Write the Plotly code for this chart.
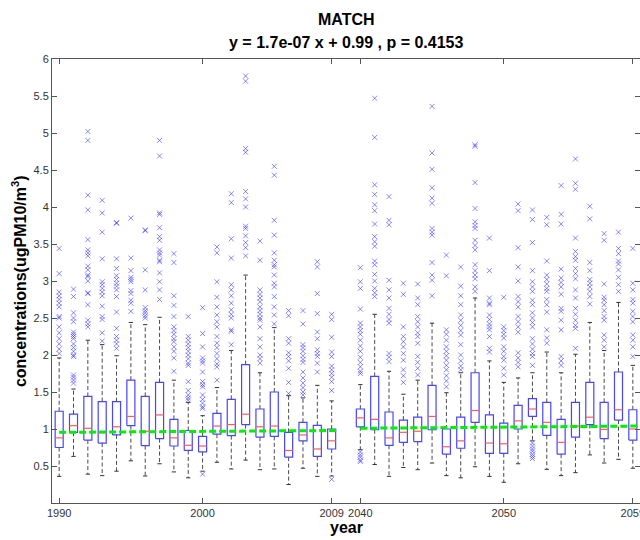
import plotly.graph_objects as go

# ---------------- data ----------------
years = list(range(1990, 2010)) + list(range(2040, 2060))

q3 = [1.24, 1.20, 1.44, 1.37, 1.37, 1.66, 1.44, 1.63, 1.13, 0.98,
      0.90, 1.21, 1.40, 1.87, 1.27, 1.50, 0.955, 1.09, 1.05, 1.00,
      1.27, 1.71, 1.23, 1.12, 1.16, 1.59, 1.00, 1.16, 1.76, 1.19,
      1.08, 1.32, 1.41, 1.36, 1.13, 1.36, 1.63, 1.36, 1.77, 1.26]

median = [0.88, 1.045, 1.01, 0.95, 1.03, 1.17, 0.97, 1.19, 0.88, 0.78,
          0.77, 1.04, 1.06, 1.20, 1.03, 1.04, 0.71, 0.92, 0.73, 0.84,
          1.15, 1.13, 0.88, 0.955, 0.97, 1.17, 0.76, 0.84, 1.25, 0.81,
          0.80, 1.11, 1.27, 1.09, 0.82, 1.04, 1.16, 0.995, 1.26, 1.00]

q1 = [0.75, 0.955, 0.85, 0.81, 0.92, 1.045, 0.775, 0.87, 0.77, 0.71,
      0.69, 0.93, 0.91, 1.06, 0.89, 0.90, 0.62, 0.84, 0.63, 0.73,
      1.03, 0.99, 0.78, 0.82, 0.83, 0.99, 0.66, 0.74, 1.09, 0.67,
      0.67, 1.00, 1.17, 0.915, 0.66, 0.89, 1.06, 0.87, 1.12, 0.85]

whisker_hi = [1.96, 1.54, 2.20, 2.14, 1.99, 2.44, 2.41, 2.51, 1.66, 1.36,
              1.18, 1.56, 2.06, 3.08, 1.76, 2.37, 1.45, 1.42, 1.59, 1.38,
              1.60, 2.55, 1.78, 1.47, 1.66, 2.43, 1.49, 1.76, 2.77, 1.92,
              1.63, 1.69, 1.76, 2.04, 1.76, 2.01, 2.44, 2.06, 2.71, 1.86]

whisker_lo = [0.36, 0.63, 0.39, 0.37, 0.43, 0.57, 0.365, 0.53, 0.42, 0.34,
              0.43, 0.55, 0.46, 0.58, 0.45, 0.46, 0.25, 0.47, 0.36, 0.365,
              0.72, 0.52, 0.36, 0.48, 0.45, 0.54, 0.37, 0.34, 0.49, 0.36,
              0.28, 0.53, 0.84, 0.455, 0.37, 0.41, 0.65, 0.54, 0.59, 0.47]

outliers = [
    [3.44, 3.10, 2.85, 2.80, 2.75, 2.70, 2.65, 2.52, 2.50, 2.38, 2.30, 2.22, 2.15, 2.08, 2.02],       # 1990
    [2.89, 2.79, 2.57, 2.50, 2.45, 2.31, 2.28, 2.25, 2.22, 2.15, 2.10, 2.05, 2.00, 1.98, 1.73, 1.70, 1.66, 1.62],
    [5.02, 4.90, 4.16, 3.96, 3.56, 3.42, 3.38, 3.34, 3.20, 3.15, 3.08, 3.06, 3.00, 2.84, 2.83, 2.68, 2.47, 2.42, 2.38],
    [4.09, 3.92, 3.66, 3.30, 2.99, 2.95, 2.90, 2.85, 2.80, 2.66, 2.52, 2.48, 2.30, 2.19],
    [3.79, 3.78, 3.30, 3.17, 3.07, 3.02, 2.97, 2.93, 2.88, 2.79, 2.58, 2.36, 2.25, 2.20, 2.15, 2.09],
    [3.85, 3.31, 3.14, 3.05, 3.02, 2.99, 2.87, 2.83, 2.74, 2.70, 2.59],
    [3.69, 3.68, 3.15, 2.88, 2.64, 2.60, 2.57, 2.53, 2.50],
    [4.90, 4.69, 3.92, 3.90, 3.72, 3.60, 3.55, 3.42, 3.38, 3.35, 3.28, 3.26, 3.11, 2.99, 2.88, 2.75],
    [3.37, 3.25, 2.80, 2.67, 2.52, 2.38, 2.33, 2.28, 2.22, 2.18, 2.11, 2.05, 1.96, 1.78],
    [2.52, 2.25, 2.20, 2.15, 2.10, 2.05, 2.00, 1.95, 1.89, 1.86, 1.64, 1.52, 1.46, 1.42, 1.39],
    [2.64, 2.29, 2.11, 1.96, 1.92, 1.89, 1.77, 1.64, 1.60, 1.57, 1.46, 1.40, 1.35, 1.30, 1.28, 0.39],  # 2000
    [3.46, 3.38, 2.99, 2.78, 2.65, 2.54, 2.45, 2.38, 2.25, 2.16, 2.10, 2.02, 1.95, 1.88, 1.84, 1.66],
    [4.18, 4.06, 3.57, 3.31, 2.95, 2.88, 2.80, 2.70, 2.61, 2.55, 2.50, 2.34, 2.32, 2.14],
    [5.77, 5.70, 4.79, 4.74, 4.21, 4.11, 4.00, 3.74, 3.71, 3.61, 3.52, 3.45, 3.34],
    [3.54, 3.28, 2.88, 2.82, 2.77, 2.72, 2.65, 2.60, 2.55, 2.50, 2.47, 2.38, 2.22, 2.11, 2.00, 1.95, 1.89],
    [4.55, 4.43, 3.82, 3.62, 3.38, 3.28, 3.22, 3.19, 3.08, 2.97, 2.92, 2.79, 2.65, 2.54, 2.42],
    [2.60, 2.53, 2.22, 2.16, 2.03, 1.98, 1.92, 1.82, 1.63, 1.48],
    [2.60, 2.42, 2.14, 2.10, 2.05, 1.99, 1.94, 1.90, 1.77, 1.69, 1.62, 1.56, 1.50, 1.46],
    [3.26, 3.19, 2.83, 2.56, 2.31, 2.22, 2.07, 2.02, 1.98, 1.89, 1.77],
    [2.55, 2.48, 2.24, 2.04, 1.98, 1.85, 1.80, 1.75, 1.70, 1.64, 1.52, 0.32],                          # 2009
    [3.18, 2.99, 2.90, 2.62, 2.43, 2.38, 2.33, 2.28, 2.20, 2.12, 2.05, 1.97, 1.90, 1.84, 1.78, 1.75,
     0.69, 0.65, 0.62, 0.58, 0.56],                                                                     # 2040
    [5.47, 4.94, 4.30, 4.17, 4.03, 3.95, 3.77, 3.60, 3.53, 3.47, 3.27, 3.22, 3.09, 3.00, 2.90, 2.84, 2.79],
    [4.14, 3.82, 3.76, 3.01, 2.88, 2.77, 2.63, 2.55, 2.48, 2.43, 2.02, 1.97, 1.91],
    [2.97, 2.82, 2.38, 2.25, 2.18, 2.11, 2.02, 1.93, 1.80, 1.72, 1.63],
    [2.96, 2.77, 2.68, 2.52, 2.45, 2.38, 2.30, 2.25, 2.16, 1.98, 1.90, 1.82, 1.73],
    [5.36, 4.73, 4.51, 4.26, 4.12, 4.05, 3.71, 3.66, 3.62, 3.25, 3.08, 3.01, 2.80],
    [3.35, 3.07, 2.34, 2.28, 2.20, 2.11, 2.05, 1.99, 1.93, 1.86, 1.80, 1.72, 1.65, 1.57],
    [3.19, 2.93, 2.80, 2.68, 2.54, 2.47, 2.40, 2.33, 2.27, 2.14, 2.00, 1.92, 1.85, 1.80],
    [4.84, 4.82, 4.33, 3.98, 3.80, 3.75, 3.71, 3.55, 3.48, 3.42, 3.22, 3.14, 3.08, 3.03, 2.92, 2.86],
    [3.58, 3.14, 2.77, 2.70, 2.68, 2.54, 2.48, 2.42, 2.38, 2.34, 2.25, 2.09, 2.04],
    [2.78, 2.38, 2.33, 2.28, 2.23, 2.11, 2.05, 1.98, 1.93, 1.82, 1.73],                                 # 2050
    [4.04, 3.95, 3.45, 3.19, 3.00, 2.79, 2.72, 2.65, 2.52, 2.45, 2.38, 2.31, 2.03, 1.96, 1.90, 1.84],
    [3.96, 3.83, 3.52, 3.14, 2.99, 2.92, 2.86, 2.74, 2.68, 2.57, 2.50, 2.44, 2.38, 2.22, 2.15, 2.08,
     2.02, 1.98, 1.86, 0.81, 0.77, 0.73, 0.70, 0.66, 0.63, 0.60],
    [3.86, 3.76, 3.27, 3.08, 3.02, 2.96, 2.90, 2.86, 2.75, 2.68, 2.58, 2.34, 2.23, 2.16],
    [4.29, 3.90, 3.77, 3.16, 3.04, 2.98, 2.92, 2.82, 2.63, 2.59, 2.47, 2.34, 1.98, 1.92, 1.86],
    [4.65, 4.32, 4.24, 3.58, 3.40, 3.33, 3.28, 3.17, 3.10, 3.03, 2.88, 2.77, 2.63, 2.55, 2.47, 2.40, 2.36, 2.09],
    [4.01, 3.84, 3.25, 3.14, 3.02, 2.97, 2.92, 2.86, 2.79, 2.69],
    [3.64, 3.55, 2.96, 2.78, 2.74, 2.68, 2.60, 2.52, 2.47, 2.27, 2.20, 2.11],
    [3.66, 3.44, 3.37, 3.27, 3.23, 3.15, 3.05, 2.95, 2.86],
    [3.44, 2.97, 2.88, 2.75, 2.70, 2.59, 2.52, 2.45, 2.27, 2.20, 2.11, 1.98],                          # 2059
]

# linear trend (green dashed), drawn per period
trend_years = [[1990, 2009], [2040, 2059]]
trend_vals = [[0.955, 0.98], [1.01, 1.04]]

tick_years = [1990, 2000, 2009, 2040, 2050, 2059]
ytick_vals = [0.5, 1, 1.5, 2, 2.5, 3, 3.5, 4, 4.5, 5, 5.5, 6]

title_line1 = "MATCH"
title_line2 = "y = 1.7e-07 x + 0.99 , p = 0.4153"
xlabel = "year"
ylabel = "concentrations(ugPM10/m<sup>3</sup>)"


# ---------------- position mapping (compressed gap between periods) ----------------
def pos(yr):
    return yr - 1990 if yr < 2040 else yr - 2040 + 21


HW = 0.28   # half box width (x units)
CW = 0.15   # half cap width

bx, by, wx, wy, cx, cy, mx, my, ox, oy = [], [], [], [], [], [], [], [], [], []
for i, yr in enumerate(years):
    p = pos(yr)
    bx += [p - HW, p + HW, p + HW, p - HW, p - HW, None]
    by += [q1[i], q1[i], q3[i], q3[i], q1[i], None]
    wx += [p, p, None, p, p, None]
    wy += [q3[i], whisker_hi[i], None, q1[i], whisker_lo[i], None]
    cx += [p - CW, p + CW, None, p - CW, p + CW, None]
    cy += [whisker_hi[i], whisker_hi[i], None, whisker_lo[i], whisker_lo[i], None]
    mx += [p - HW, p + HW, None]
    my += [median[i], median[i], None]
    for v in outliers[i]:
        ox.append(p)
        oy.append(v)

tx, ty = [], []
for yrs, vals in zip(trend_years, trend_vals):
    tx += [pos(yrs[0]), pos(yrs[1]) + 0.5, None]
    ty += [vals[0], vals[1], None]

fig = go.Figure()
fig.add_trace(go.Scatter(x=wx, y=wy, mode="lines", line=dict(color="#4a4a4a", width=1, dash="4px,2.5px"),
                         hoverinfo="skip", showlegend=False))
fig.add_trace(go.Scatter(x=cx, y=cy, mode="lines", line=dict(color="#333333", width=1),
                         hoverinfo="skip", showlegend=False))
fig.add_trace(go.Scatter(x=bx, y=by, mode="lines", line=dict(color="rgb(70,70,255)", width=1.2),
                         hoverinfo="skip", showlegend=False))
fig.add_trace(go.Scatter(x=mx, y=my, mode="lines", line=dict(color="rgb(255,90,90)", width=1.2),
                         hoverinfo="skip", showlegend=False))
fig.add_trace(go.Scatter(x=ox, y=oy, mode="markers",
                         marker=dict(symbol="x-thin-open", size=5, color="rgba(40,40,255,0.55)",
                                     line=dict(width=1, color="rgba(40,40,255,0.55)")),
                         hoverinfo="skip", showlegend=False))
fig.add_trace(go.Scatter(x=tx, y=ty, mode="lines", line=dict(color="#00ee00", width=3, dash="7px,3px"),
                         hoverinfo="skip", showlegend=False, cliponaxis=True))

FONT = "Liberation Sans, Arial, sans-serif"
axis_common = dict(showline=True, linecolor="#555555", linewidth=1, mirror="ticks",
                   ticks="inside", ticklen=5, tickcolor="#555555", showgrid=False, zeroline=False,
                   automargin=False, ticklabeloverflow="allow",
                   tickfont=dict(family=FONT, size=11, color="#333333"))

fig.update_layout(
    width=640, height=540,
    margin=dict(l=52, r=0, t=59, b=37, autoexpand=False),
    paper_bgcolor="white", plot_bgcolor="white",
    font=dict(family=FONT),
    xaxis=dict(range=[-0.5, 40.5], tickmode="array",
               tickvals=[pos(y) for y in tick_years], ticktext=[str(y) for y in tick_years],
               **axis_common),
    yaxis=dict(range=[0, 6], tickmode="array", tickvals=ytick_vals,
               ticktext=[("%g" % v) for v in ytick_vals], **axis_common),
    annotations=[
        dict(text="<b>" + title_line1 + "</b>", xref="paper", yref="paper", x=0.5, y=1.088,
             xanchor="center", yanchor="middle", showarrow=False,
             font=dict(family=FONT, size=16, color="black")),
        dict(text="<b>" + title_line2 + "</b>", xref="paper", yref="paper", x=0.5, y=1.038,
             xanchor="center", yanchor="middle", showarrow=False,
             font=dict(family=FONT, size=16, color="black")),
        dict(text="<b>" + xlabel + "</b>", xref="paper", yref="paper", x=0.5, y=-0.056,
             xanchor="center", yanchor="middle", showarrow=False,
             font=dict(family=FONT, size=16, color="black")),
        dict(text="<b>" + ylabel + "</b>", xref="paper", yref="paper", x=-0.056, y=0.5,
             xanchor="center", yanchor="middle", textangle=-90, showarrow=False,
             font=dict(family=FONT, size=16, color="black")),
    ],
)

fig.write_html(
    "out.html",
    config={"displayModeBar": False},
    post_script="document.body.style.margin='0';document.body.style.padding='0';"
                "document.body.style.overflow='hidden';document.documentElement.style.overflow='hidden';",
)
